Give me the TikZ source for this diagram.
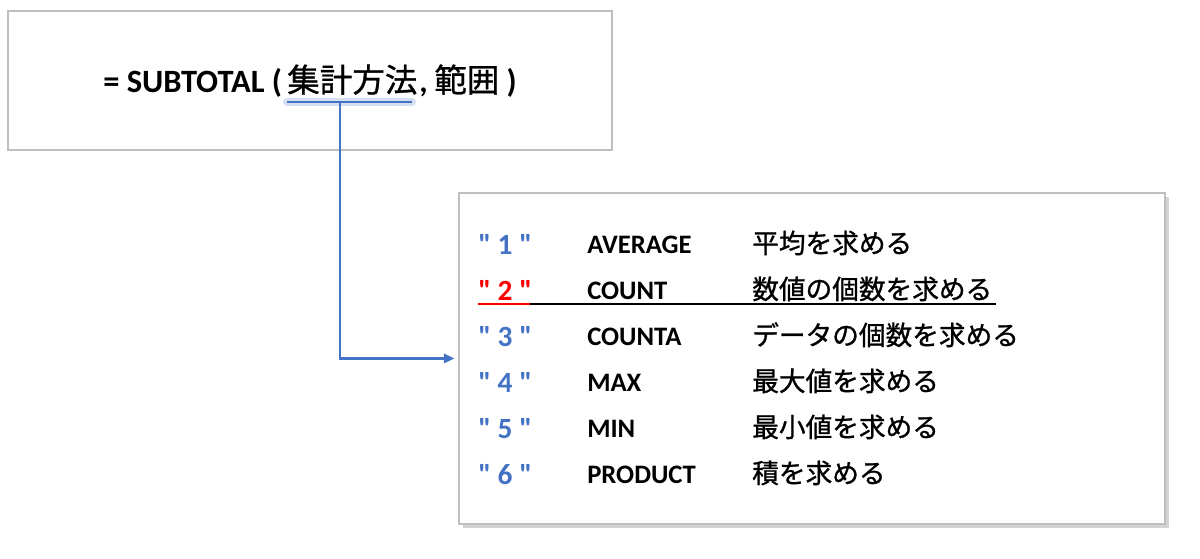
\documentclass[tikz,border=0pt]{standalone}
\usepackage{fontspec}
\setmainfont{Carlito}[Ligatures=TeXOff]
\newfontfamily\jp{Noto Sans CJK JP}[FakeBold=1]
\usetikzlibrary{arrows.meta,shadows}
\definecolor{numblue}{HTML}{4472C4}
\definecolor{boxgray}{HTML}{BFBFBF}
\tikzset{
  formbox/.style={draw=boxgray,line width=0.8pt,minimum width=453pt,minimum height=104.25pt,inner sep=0pt},
  listbox/.style={draw=boxgray,fill=white,line width=0.8pt,minimum width=529.5pt,minimum height=248.25pt,inner sep=0pt,
    drop shadow={shadow xshift=3pt,shadow yshift=-3pt,opacity=.35}},
  formula/.style={anchor=base west,inner sep=0pt,font=\fontsize{24.4}{28}\selectfont\bfseries},
  rownum/.style={anchor=base west,inner sep=0pt,font=\fontsize{22}{26}\selectfont\bfseries},
  rowfn/.style={anchor=base west,inner sep=0pt,font=\fontsize{20}{24}\selectfont\bfseries},
  rowdesc/.style={anchor=base west,inner sep=0pt,font=\fontsize{20}{24}\selectfont\jp},
  link/.style={numblue,line width=1.8pt,-{Triangle[length=8pt,width=7pt]},shorten >=3pt},
}
\begin{document}
\begin{tikzpicture}[x=0.75pt,y=-0.75pt]
        \useasboundingbox (0,0) rectangle (1200,558);
        % formula box
        \node[formbox] (formula) at (310,80.5) {};
        \node[formula] (head) at (103,92) {= SUBTOTAL (};
        \node[formula] (arg) at (287,92) {{\jp\mdseries 集計方法}};
        \node[formula] (tail) at (419,92) {,\hspace{5pt}{\jp\mdseries 範囲} )};
        \coordinate (ul-l) at (287,102);
        \coordinate (ul-r) at (412,102);
        \coordinate (drop) at (340,102);
        \draw[numblue!50,line width=6pt,opacity=.45,line cap=round](ul-l)--(ul-r);
        \draw[numblue,line width=2.2pt](ul-l)--(ul-r);
        % list box
        \node[listbox] (list) at (812,358.5) {};
        \draw[link](drop)|-(list.west);
        \foreach \n/\fn/\dsc [count=\i] in {1/AVERAGE/平均を求める,2/COUNT/数値の個数を求める,3/COUNTA/データの個数を求める,4/MAX/最大値を求める,5/MIN/最小値を求める,6/PRODUCT/積を求める}{
        \ifnum\i=2 \def\numcol{red}\else\def\numcol{numblue}\fi
        \node[rownum,text=\numcol] (num\i) at (478,{254+46*(\i-1)}) {" \n\ "};
        \node[rowfn] (fn\i) at (587,{253+46*(\i-1)}) {\fn};
        \node[rowdesc] (desc\i) at (752,{253+46*(\i-1)}) {\dsc};
        }
        \draw[red,line width=1pt](478,304)--(530,304);
        \draw[line width=1pt](530,304)--(996,304);
\end{tikzpicture}
\end{document}
